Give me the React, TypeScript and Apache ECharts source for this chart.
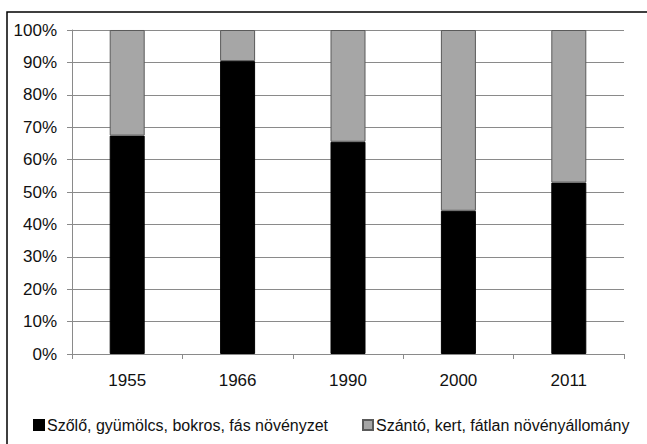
import React, { useEffect, useRef } from "react";
import * as echarts from "echarts";

const categories = ["1955", "1966", "1990", "2000", "2011"];
const woodyShare = [67.4, 90.4, 65.5, 44.2, 52.9];
const openShare = [32.6, 9.6, 34.5, 55.8, 47.1];
const seriesNames = [
  "Szőlő, gyümölcs, bokros, fás növényzet",
  "Szántó, kert, fátlan növényállomány",
];

const FONT = "'Liberation Sans', Arial, sans-serif";

export default function App() {
  const ref = useRef<HTMLDivElement>(null);
  useEffect(() => {
    if (!ref.current) return;
    const chart = echarts.init(ref.current, undefined, { renderer: "svg" });
    const legendText = { fontFamily: FONT, fontSize: 16, color: "#111", padding: [0, 0, 0, -2] };
    chart.setOption({
      animation: false,
      backgroundColor: "#ffffff",
      textStyle: { fontFamily: FONT },
      graphic: [
        {
          type: "rect",
          shape: { x: 7, y: 12, width: 700, height: 500 },
          style: { fill: "none", stroke: "#000", lineWidth: 1.5 },
          z: 0,
        },
      ],
      grid: { left: 72, top: 30, width: 552, height: 324, containLabel: false },
      legend: [
        {
          data: [seriesNames[0]],
          left: 33,
          top: 417,
          padding: 0,
          itemWidth: 10,
          itemHeight: 10,
          icon: "rect",
          textStyle: legendText,
        },
        {
          data: [seriesNames[1]],
          left: 362,
          top: 417,
          padding: 0,
          itemWidth: 10,
          itemHeight: 10,
          icon: "rect",
          textStyle: legendText,
        },
      ],
      xAxis: {
        type: "category",
        data: categories,
        axisLine: { lineStyle: { color: "#8a8a8a", width: 1 } },
        axisTick: { show: true, length: 5, lineStyle: { color: "#8a8a8a" } },
        axisLabel: { fontFamily: FONT, fontSize: 17, color: "#111", margin: 18 },
      },
      yAxis: {
        type: "value",
        min: 0,
        max: 100,
        interval: 10,
        axisLine: { show: true, lineStyle: { color: "#8a8a8a", width: 1 } },
        axisTick: { show: true, length: 5, lineStyle: { color: "#8a8a8a" } },
        splitLine: { show: true, lineStyle: { color: "#8a8a8a", width: 1 } },
        axisLabel: {
          fontFamily: FONT,
          fontSize: 17,
          color: "#111",
          margin: 15,
          formatter: "{value}%",
        },
      },
      series: [
        {
          name: seriesNames[0],
          type: "bar",
          stack: "total",
          data: woodyShare,
          barWidth: 35,
          itemStyle: { color: "#000000", borderColor: "#000", borderWidth: 1 },
        },
        {
          name: seriesNames[1],
          type: "bar",
          stack: "total",
          data: openShare,
          barWidth: 35,
          itemStyle: { color: "#a6a6a6", borderColor: "#5a5a5a", borderWidth: 1 },
        },
      ],
    });
    return () => chart.dispose();
  }, []);
  return (
    <div
      ref={ref}
      style={{ position: "fixed", left: 0, top: 0, width: 647, height: 444 }}
    />
  );
}
